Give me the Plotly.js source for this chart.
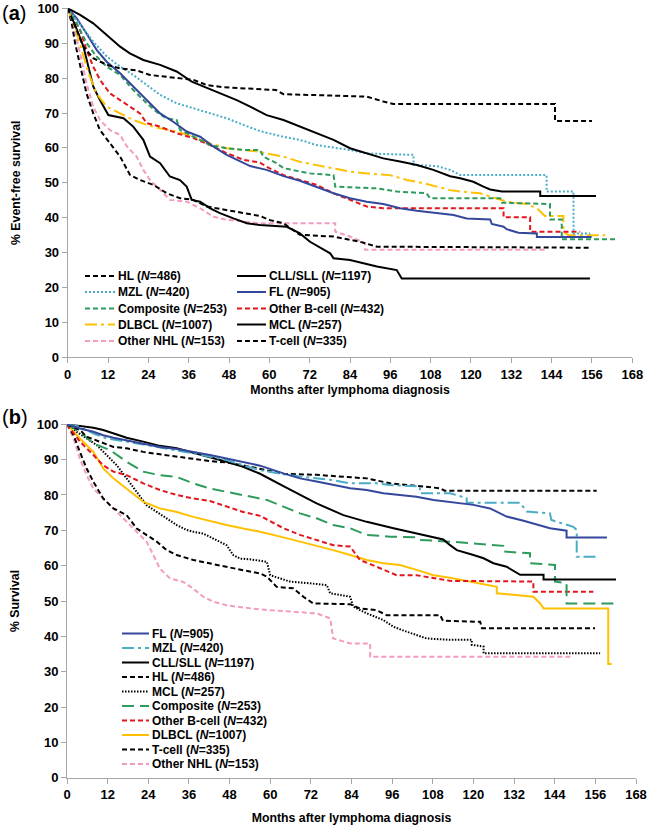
<!DOCTYPE html>
<html><head><meta charset="utf-8">
<script src="https://cdn.plot.ly/plotly-3.0.1.min.js"></script>
<style>html,body{margin:0;padding:0;background:#fff}#chart{width:650px;height:827px}</style>
</head><body><div id="chart"></div>
<script>
// ---------------- DATA ----------------
const monthTicks = [0,12,24,36,48,60,72,84,96,108,120,132,144,156,168];
const pctTicks = [0,10,20,30,40,50,60,70,80,90,100];

// Panel (a): event-free survival
const aHL_m = [0,2.2,4.7,7.6,11.6,15.6,20.5,24.5,30.4,37.4,41.4,46.3,51.3,57.2,62,64.2,74.1,89,93.9,96.9,145,145,156];
const aHL_s = [100,94.8,89,85.7,83.8,82.8,82.2,80.9,80.2,79.5,78,77.4,77.1,76.8,76.6,75.4,75.2,74.7,73.3,72.6,72.6,67.7,67.7];
const aCLL_m = [0,3.7,7.6,11.6,15.6,18.5,22.5,27.5,32.4,36.9,40.4,44.3,50.3,54.3,59.2,64.2,69.1,74.1,79.1,84,89,93.9,98.9,103.9,108.8,113.8,116.8,120.7,123.7,125.7,129.2,140.6,140.6,157.2];
const aCLL_s = [100,98.1,95.7,92.4,89,87.1,85.2,83.8,81.9,79,77.6,76.1,73.7,71.8,69.4,68,66.1,64.2,62.3,59.9,58.4,57,56.1,55.1,53.7,51.9,51.3,50.3,48.9,48.1,47.5,47.5,46.2,46.2];
const aMZL_m = [0,3.7,7.6,11.6,15.6,19.5,23.5,27.5,32.4,37.4,42.4,47.3,52.3,57.2,64.2,69.1,74.1,79.1,84,89,102.9,102.9,109.8,113.8,116.8,142.5,142.5,150.5,150.5,155.5];
const aMZL_s = [100,95.2,90.5,86.2,83.3,80.9,78,75.2,72.8,71.4,69.9,68.5,66.6,64.8,63.2,62.3,60.8,60.2,59.4,58.4,58,55.1,54.8,53.7,52.2,52.2,47.5,47.5,35.5,35.5];
const aFL_m = [0,2.7,5.6,8.6,11.6,15.6,19.5,23.5,27.5,31.4,35.4,39.4,43.3,47.3,51.3,54.3,59.2,64.2,69.1,74.1,79.1,84,89,93.9,98.9,103.9,108.8,114.8,118.7,125.7,126.2,129.7,130.6,134.1,139.6,139.6,155.9];
const aFL_s = [100,97.1,92.8,88.1,84.7,81.4,77.6,73.7,69.9,67.5,64.7,63.2,60.4,58,56.1,54.8,53.7,51.9,50.6,48.9,47,45.6,44.6,43.9,42.7,42,41.4,40.8,39.8,39.5,38.2,37.4,36.7,35.7,35.5,34.5,34.5];
const aComp_m = [0,2.7,5.6,8.6,11.6,15.6,19.5,23.5,27.5,29.5,32.4,33.4,37.4,42.4,47.3,52.3,57.2,58.2,62.2,64.2,72.1,79.1,79.6,92,97.9,106.8,107.8,128.7,129.2,143.5,143.5,147,147,162.9];
const aComp_s = [100,95.7,90,86.2,83.3,80.9,76.6,72.8,69.5,68.5,68,65.2,63.2,60.8,59.9,59.4,59.4,57.5,55.6,54.2,52.7,52.2,48.9,48.4,47.5,47,45.6,45.6,44.3,43.9,39.5,39.5,33.8,33.8];
const aOthB_m = [0,3.7,5.6,7.6,9.6,12.6,15.6,18.5,21.5,23.5,27.5,32.4,37.4,42.4,47.3,52.3,57.2,59.2,64.2,69.1,74.1,79.1,84,89,93.9,129.7,129.7,137.6,137.6,152.5];
const aOthB_s = [100,93.8,88.1,83.3,79.5,75.6,73.7,71.8,69.9,67.1,66.1,64.2,62.8,60.8,58.5,56.6,55.8,54.6,52.2,50.8,49.4,47,45.1,43.2,42.7,42.7,40.1,40.1,36,36];
const aDLBCL_m = [0,2.7,4.7,6.6,8.6,11.6,15.6,19.5,23.5,27.5,32.4,37.4,42.4,47.3,52.3,57.2,59.2,64.2,69.1,74.1,79.1,84,89,95.9,100.9,105.8,109.8,113.8,116.8,122.7,127.7,130.6,136.6,139.6,142,147.5,147.5,149,159.9];
const aDLBCL_s = [100,93,86.2,80.4,75.6,71.8,69.9,68,66.6,65.6,64.7,63.2,61.3,59.9,59.4,58.9,58.4,57.5,56,55.1,54.2,53.2,52.7,52.2,50.8,49.9,48.9,47.9,47.5,47,45.5,44.6,43.9,42.7,40.5,40.5,36,35,35];
const aMCL_m = [0,2.2,4.7,6.1,7.6,9.6,12.1,16.6,19.5,22.5,24.5,27.5,30.4,33.4,35.4,36.9,39.4,42.4,45.3,49.3,53.3,57.2,65.2,69.1,72.1,78.1,79.1,84,92,97.9,99.4,155.4];
const aMCL_s = [100,95.2,89,83.3,77.6,73.7,69.4,68.5,66.1,62.3,57.5,55.6,51.8,50.8,48.9,45.1,44.6,42.7,41.3,39.8,38.4,37.9,37.4,35.5,33.1,29.8,28.4,27.9,26,25,22.6,22.6];
const aNHL_m = [0,1.7,3.7,5.6,7.6,9.6,12.6,15.6,17.6,20.5,22.5,24.5,27.5,30.4,35.4,39.4,43.3,47.3,52.3,57.2,79.6,79.6,84,88.5,88.5,142];
const aNHL_s = [100,94.8,87.1,78.5,71.8,68,65.1,63.7,60.4,57.5,53.7,50.8,48,45.1,44.6,42.7,40.3,39.4,38.9,38.4,38.4,36,34.6,32.7,30.8,30.8];
const aT_m = [0,1.2,2.2,3.7,5.6,7.6,9.6,12.6,15.6,18.5,21.5,25.5,29.5,33.4,37.4,41.4,47.3,52.3,57.2,60.2,64.2,69.1,79.1,87,92,155];
const aT_s = [100,95.7,90,83.3,75.6,69.9,65.1,61.3,57.5,52.3,50.8,49.4,47,45.6,45.1,43.2,42.2,41.3,40.5,39.3,38.4,35.1,34.6,33.1,31.7,31.4];

// Panel (b): overall survival
const bFL_m = [0,3.8,7.8,10.7,13.7,17.6,22.5,27.4,32.4,37.3,42.2,47.1,52,57,63.9,68.8,73.7,78.6,83.6,88.5,93.4,98.3,103.2,108.2,115.1,120,124.9,129.8,134.8,139.7,142.6,147.5,147.5,159.4];
const bFL_s = [100,98.8,97.9,96.9,96.2,95.5,94.6,93.6,93,92.2,91.3,90.3,89.4,88.3,86.1,84.7,83.8,82.8,81.9,81.4,80.5,80,79.5,78.6,77.8,77.2,76.2,73.9,72.7,71.5,70.6,69.9,68,68];
const bMZL_m = [0,3.8,7.8,11.7,17.6,22.5,27.4,32.4,37.3,42.2,47.1,52,57,63.9,68.8,78.6,83.6,91.4,95.4,104.2,104.2,113.1,118,118,133.8,135.7,142.6,143,149.5,150.5,150.5,156.4];
const bMZL_s = [100,99.3,97.4,96,95.1,94.3,93.6,92.7,91.8,90.8,89.9,88.4,87,85.9,85.2,84.2,83.3,83.3,82.8,82.4,80.5,80.5,79.1,77.8,77.8,75.3,74.8,72.9,71,70.1,62.5,62.5];
const bCLL_m = [0,7.8,10.7,13.7,17.6,22.5,27.4,32.4,37.3,42.2,47.1,52,57,63.9,68.8,73.7,81.6,88.5,96.4,103.2,111.1,113.1,115.1,120,123,125.9,129.8,133.8,140.7,140.7,162.1];
const bCLL_s = [100,99,98.4,97.4,96.2,95.1,93.9,93.2,92,90.8,89.4,88,86,82.5,80,77.6,74.3,72.4,70.6,69.1,67.4,65.8,64.4,63,62.1,60.7,59.7,57.4,57.4,56.1,56.1];
const bHL_m = [0,3.8,5.8,9.7,13.7,17.6,22.5,27.4,32.4,37.3,42.2,47.1,54,63.9,73.7,88.5,95.4,105.2,110.2,111.5,156.4];
const bHL_s = [100,98.4,96.5,95.1,93.6,93.2,92.2,91.5,90.8,90.3,89.6,89.2,88,86,85.7,84.7,83.3,82.4,81.9,81.2,81.2];
const bMCL_m = [0,2.8,5.8,8.8,11.7,14.7,17.6,20.6,23.5,26.5,29.4,32.4,35.3,37.3,40.2,43.2,47.1,49.1,51.1,54,59,60,65.8,71.8,76.7,77.7,83.6,84.5,88.5,93.4,96.4,100.3,106.2,113.1,119.5,119.5,123,123,157.4];
const bMCL_s = [100,97.9,96,94.1,91.3,88.4,84.7,80.9,77.1,75.2,73.4,71.5,70.1,69.6,69.1,67.7,65.8,63,62,61.8,61.1,57.3,55.5,55,54.5,52.2,51.2,48.4,46.5,44.6,42.7,41.3,39.4,39,39,37.6,37.1,35.2,35.2];
const bComp_m = [0,3.8,7.8,12.7,17.6,22.5,27.4,32.4,37.3,42.2,47.1,54,59,63.9,68.8,73.7,78.6,83.6,88.5,95.4,103.2,104,113.1,128.8,128.8,136.7,136.7,144.1,144.1,147.5,147.5,162.1];
const bComp_s = [100,97.9,94.6,92.7,89.4,86.6,85.6,85.1,83.3,81.8,80.9,79.5,78.6,76.7,74.8,73.4,71.5,70.6,68.7,68.2,68,67.3,66.8,65.6,64,63.5,60.7,60.2,55.5,55,49.3,49.3];
const bOthB_m = [0,3.8,7.8,10.7,13.7,17.6,22.5,27.4,32.4,37.3,42.2,47.1,52,57,63.9,68.8,73.7,78.6,83.6,86.5,91.4,97.3,103.2,108.2,113.1,137.7,137.7,155.4];
const bOthB_s = [100,95.1,91.3,88.4,86.6,85.6,83.3,81.4,80,79,78.3,76.7,75.2,74.1,70.6,68.7,67.2,65.8,65.4,61.6,59.7,57.3,57.3,56.4,55.7,55.5,52.6,52.6];
const bDLBCL_m = [0,3.8,7.8,10.7,13.7,17.6,22.5,27.4,32.4,37.3,42.2,47.1,52,57,63.9,68.8,73.7,78.6,83.6,88.5,93.4,98.3,103.2,108.2,113.1,121,126.9,126.9,131.8,137.7,139.7,140.7,159.8,159.8,160.8];
const bDLBCL_s = [100,96,92.2,87.5,84.7,81.8,78.1,76.2,75.2,73.8,72.6,71.5,70.5,69.6,68,66.8,65.8,64.4,63,61.6,60.7,60.2,58.8,57.3,56.6,55,54,52.2,51.7,51.2,49.3,47.9,47.9,32.2,32.2];
const bT_m = [0,1.9,3.8,5.8,7.8,10.7,13.7,17.6,20.6,23.5,26.5,29.4,32.4,37.3,42.2,47.1,52,57,59,61.9,66.8,69.8,72.7,83.6,86.5,91.4,94.4,110.2,111,122,122.5,155.9];
const bT_s = [100,97,92.2,87.5,83.7,79,76.2,74.3,70.5,68.6,66.8,64.4,63,61.6,60.6,59.7,58.7,57.8,56.9,54,53.6,51.2,49.3,49.1,47.9,47.4,46,46,44.4,44.1,42.3,42.3];
const bNHL_m = [0,1.9,3.8,5.8,7.8,10.7,13.7,17.6,21.6,23.5,25.5,27.4,30.4,34.3,37.3,40.2,43.2,47.1,50.1,57,73.7,77.7,78.6,83.6,89.5,89.5,149.5];
const bNHL_s = [100,96,90.3,85.6,81.8,79,76.2,72.4,68.6,66.8,63,59.2,56.4,55.4,53.5,51.2,49.8,48.8,48.4,47.6,46.5,45.1,39.4,38,38,34.2,34.2];

// legend labels (name, N) in the order shown in each legend
const legendA_col1 = [['HL',486],['MZL',420],['Composite',253],['DLBCL',1007],['Other NHL',153]];
const legendA_col2 = [['CLL/SLL',1197],['FL',905],['Other B-cell',432],['MCL',257],['T-cell',335]];
const legendB = [['FL',905],['MZL',420],['CLL/SLL',1197],['HL',486],['MCL',257],['Composite',253],['Other B-cell',432],['DLBCL',1007],['T-cell',335],['Other NHL',153]];

// ---------------- STYLES ----------------
const C = {black:'#000000', teal:'#4BACC6', blue:'#34479c', green:'#2e9a5c', red:'#e3161e', gold:'#FFC000', pink:'#F29CC2'};
const DASH = '5px,3px', DOT = '2px,2px', FINEDOT = '1.5px,1.5px', LDDOT = '12px,4px,3px,4px', LDASH = '12px,6px';
const styleA = {
  'HL':[C.black,DASH], 'CLL/SLL':[C.black,'solid'], 'MZL':[C.teal,DOT], 'FL':[C.blue,'solid'],
  'Composite':[C.green,DASH], 'Other B-cell':[C.red,DASH], 'DLBCL':[C.gold,LDDOT], 'MCL':[C.black,'solid'],
  'Other NHL':[C.pink,DASH], 'T-cell':[C.black,DASH]
};
const styleB = {
  'FL':[C.blue,'solid'], 'MZL':[C.teal,LDDOT], 'CLL/SLL':[C.black,'solid'], 'HL':[C.black,DASH],
  'MCL':[C.black,FINEDOT], 'Composite':[C.green,LDASH], 'Other B-cell':[C.red,DASH], 'DLBCL':[C.gold,'solid'],
  'T-cell':[C.black,DASH], 'Other NHL':[C.pink,DASH]
};

const seriesA = [
  ['Other NHL',aNHL_m,aNHL_s],['T-cell',aT_m,aT_s],['MCL',aMCL_m,aMCL_s],['DLBCL',aDLBCL_m,aDLBCL_s],
  ['Other B-cell',aOthB_m,aOthB_s],['Composite',aComp_m,aComp_s],['FL',aFL_m,aFL_s],['MZL',aMZL_m,aMZL_s],
  ['CLL/SLL',aCLL_m,aCLL_s],['HL',aHL_m,aHL_s]
];
const seriesB = [
  ['Other NHL',bNHL_m,bNHL_s],['T-cell',bT_m,bT_s],['MCL',bMCL_m,bMCL_s],['DLBCL',bDLBCL_m,bDLBCL_s],
  ['Other B-cell',bOthB_m,bOthB_s],['Composite',bComp_m,bComp_s],['CLL/SLL',bCLL_m,bCLL_s],['HL',bHL_m,bHL_s],
  ['MZL',bMZL_m,bMZL_s],['FL',bFL_m,bFL_s]
];

const FONT = 'Liberation Sans, Arial, sans-serif';
const W = 650, H = 827;
const px = v => v / W, py = v => 1 - v / H;

const traces = [];
seriesA.forEach(([name, m, s]) => {
  const st = styleA[name];
  traces.push({type:'scatter', mode:'lines', x:m, y:s, name:name, xaxis:'x', yaxis:'y',
    line:{color:st[0], dash:st[1], width:2}, showlegend:false, hoverinfo:'skip'});
});
seriesB.forEach(([name, m, s]) => {
  const st = styleB[name];
  traces.push({type:'scatter', mode:'lines', x:m, y:s, name:name, xaxis:'x2', yaxis:'y2',
    line:{color:st[0], dash:st[1], width:2}, showlegend:false, hoverinfo:'skip'});
});

// manual legends
const shapes = [], annotations = [];
function legendEntry(name, n, style, x0, x1, y) {
  shapes.push({type:'line', xref:'paper', yref:'paper', x0:px(x0), x1:px(x1), y0:py(y), y1:py(y),
    line:{color:style[0], dash:style[1], width:2}});
  annotations.push({xref:'paper', yref:'paper', x:px(x1+1), y:py(y), xanchor:'left', yanchor:'middle',
    showarrow:false, text:'<b>' + name + ' (<i>N</i>=' + n + ')</b>', font:{family:FONT, size:12, color:'#000'}});
}
const rowsA = [276, 292, 308.5, 324.5, 341];
legendA_col1.forEach((e,i) => legendEntry(e[0], e[1], styleA[e[0]], 85, 115, rowsA[i]));
legendA_col2.forEach((e,i) => legendEntry(e[0], e[1], styleA[e[0]], 237, 266, rowsA[i]));
legendB.forEach((e,i) => legendEntry(e[0], e[1], styleB[e[0]], 122, 149, 633.5 + i*14.5));

annotations.push({xref:'paper', yref:'paper', x:0, y:py(13), xanchor:'left', yanchor:'middle', showarrow:false,
  text:'(<b>a</b>)', font:{family:FONT, size:20, color:'#000'}});
annotations.push({xref:'paper', yref:'paper', x:0, y:py(417), xanchor:'left', yanchor:'middle', showarrow:false,
  text:'(<b>b</b>)', font:{family:FONT, size:20, color:'#000'}});

const tickFont = {family:FONT, size:13, weight:'bold', color:'#000'};
const titleFont = {family:FONT, size:12.3, weight:'bold', color:'#000'};
function xAx(domain, anchor, standoff) {
  return {domain:domain, anchor:anchor, range:[0,168], tickmode:'array', tickvals:monthTicks, ticktext:monthTicks.map(String),
    showline:true, linecolor:'#a6a6a6', linewidth:1, ticks:'outside', ticklen:5, tickcolor:'#a6a6a6',
    showgrid:false, zeroline:false, tickfont:tickFont,
    title:{text:'Months after lymphoma diagnosis', font:titleFont, standoff:standoff}};
}
function yAx(domain, anchor, title, standoff) {
  return {domain:domain, anchor:anchor, range:[0,100], tickmode:'array', tickvals:pctTicks, ticktext:pctTicks.map(String),
    showline:true, linecolor:'#a6a6a6', linewidth:1, ticks:'outside', ticklen:5, tickcolor:'#a6a6a6',
    showgrid:false, zeroline:false, tickfont:tickFont,
    title:{text:title, font:titleFont, standoff:standoff}};
}

const layout = {
  width:W, height:H, margin:{l:0, r:0, t:0, b:0}, paper_bgcolor:'#fff', plot_bgcolor:'#fff',
  showlegend:false, font:{family:FONT},
  xaxis: xAx([px(67.7), px(632.3)], 'y', 4),
  yaxis: yAx([py(357.3), py(8.3)], 'x', '% Event-free survival', 14),
  xaxis2: xAx([px(67), px(636)], 'y2', 12),
  yaxis2: yAx([py(777.7), py(424.3)], 'x2', '% Survival', 14),
  shapes: shapes, annotations: annotations
};

Plotly.newPlot('chart', traces, layout, {staticPlot:true, displayModeBar:false});
</script></body></html>
